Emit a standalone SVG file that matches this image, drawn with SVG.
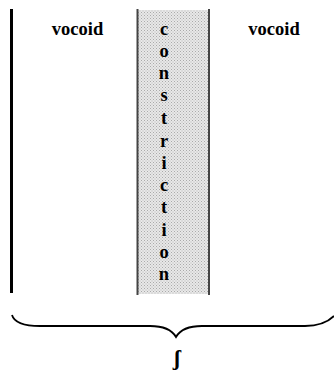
<svg xmlns="http://www.w3.org/2000/svg" width="334" height="370" viewBox="0 0 334 370">
<style>
.t{font-family:"Liberation Serif","Times New Roman",serif;font-weight:bold;font-size:18.5px;fill:#000;text-anchor:middle}
.bar{stroke:#000;stroke-width:3;fill:none}
.edge{stroke:#444;stroke-width:2;fill:none}
</style>
<defs>
<pattern id="dots" width="3" height="3" patternUnits="userSpaceOnUse">
<rect width="3" height="3" fill="#e8e8e8"/>
<rect x="0" y="0" width="1" height="1" fill="#aaaaaa"/>
<rect x="1.5" y="1.5" width="1" height="1" fill="#b4b4b4"/>
</pattern>
</defs>
<rect x="0" y="0" width="334" height="370" fill="#fff"/>
<g id="left-vocoid">
<line class="bar" x1="11.5" y1="9" x2="11.5" y2="293"/>
<text class="t" x="77.5" y="35">vocoid</text>
</g>
<g id="constriction">
<rect x="137" y="10" width="72" height="284" fill="url(#dots)"/>
<line class="edge" x1="137.5" y1="9" x2="137.5" y2="295" stroke="#666"/>
<line class="edge" x1="209" y1="9" x2="209" y2="295" stroke="#333"/>
<g class="t">
<text x="164" y="35">c</text>
<text x="164" y="57">o</text>
<text x="164" y="79">n</text>
<text x="164" y="101">s</text>
<text x="164" y="124">t</text>
<text x="164" y="147">r</text>
<text x="164" y="169">i</text>
<text x="164" y="191">c</text>
<text x="164" y="213">t</text>
<text x="164" y="236">i</text>
<text x="164" y="258">o</text>
<text x="164" y="280">n</text>
</g>
</g>
<g id="right-vocoid">
<text class="t" x="274" y="35">vocoid</text>
</g>
<g id="brace">
<path d="M12,315 C14,322 24,326 40,326 L150,326 C165,326 172,330 176,337 C180,330 187,326 202,326 L305,326 C320,326 328,322 334,316" fill="none" stroke="#000" stroke-width="1.8"/>
<text x="177" y="365" style="font-family:'Liberation Serif','Times New Roman',serif;font-weight:bold;font-size:22px;text-anchor:middle">ʃ</text>
</g>
</svg>
